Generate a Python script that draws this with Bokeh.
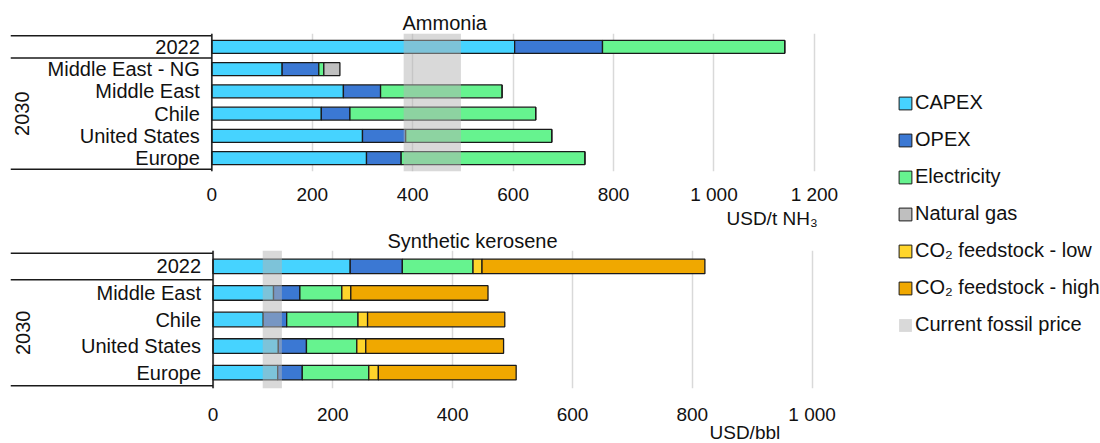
import math
from bokeh.plotting import figure
from bokeh.layouts import row, column
from bokeh.models import (ColumnDataSource, FactorRange, Range1d, FixedTicker,
                          BoxAnnotation, Span, Title, Legend, LegendItem,
                          CustomJSTickFormatter)
from bokeh.core.properties import value
from bokeh.embed import file_html
from bokeh.resources import INLINE

# ---------------- data ----------------
series_keys = ["capex", "opex", "elec", "gas", "co2_low", "co2_high"]
series_labels = ["CAPEX", "OPEX", "Electricity", "Natural gas",
                 "CO₂ feedstock - low", "CO₂ feedstock - high"]
series_colors = ["#46D3FF", "#3B78D3", "#66F38F", "#BFBFBF", "#FFD52B", "#F0A800"]
fossil_label = "Current fossil price"

amm_title = "Ammonia"
amm_unit = "USD/t NH₃"
amm_groups = ["2022", "2030", "2030", "2030", "2030", "2030"]
amm_rows = ["2022", "Middle East - NG", "Middle East", "Chile", "United States", "Europe"]
amm_capex = [603, 140, 262, 218, 300, 308]
amm_opex = [175, 73, 74, 57, 86, 69]
amm_elec = [363, 10, 242, 370, 291, 366]
amm_gas = [0, 32, 0, 0, 0, 0]
amm_fossil = [382, 496]
amm_ticks = [0, 200, 400, 600, 800, 1000, 1200]

ker_title = "Synthetic kerosene"
ker_unit = "USD/bbl"
ker_groups = ["2022", "2030", "2030", "2030", "2030"]
ker_rows = ["2022", "Middle East", "Chile", "United States", "Europe"]
ker_capex = [229, 101, 84, 109, 108]
ker_opex = [87, 44, 39, 47, 41]
ker_elec = [118, 70, 119, 84, 111]
ker_co2_low = [15, 15, 16, 15, 16]
ker_co2_high = [372, 229, 229, 230, 230]
ker_fossil = [83, 115]
ker_ticks = [0, 200, 400, 600, 800, 1000]

# ---------------- style ----------------
FONT = "Liberation Sans"
TXT = "#111111"
LINE = "#1a1a1a"
GRID = "#D9D9D9"


def make_chart(title, unit, groups, rows, stacks, fossil, ticks, x_start, x_end,
               height, border_top, border_bottom, bar_height, tick_standoff,
               title_offset, title_standoff, title_valign,
               unit_offset, unit_standoff):
    factors = list(zip(groups, rows))
    y_range = FactorRange(factors=list(reversed(factors)), factor_padding=0,
                          group_padding=0, range_padding=0.1,
                          range_padding_units="absolute")
    p = figure(width=845, height=height, x_range=Range1d(x_start, x_end),
               y_range=y_range, output_backend="svg", toolbar_location=None,
               y_axis_location=None, min_border_left=10, min_border_right=10,
               min_border_top=border_top, min_border_bottom=border_bottom)
    p.outline_line_color = None
    p.ygrid.grid_line_color = None

    # stacked bars
    data = {"y": factors}
    data.update(stacks)
    src = ColumnDataSource(data)
    keys = [k for k in series_keys if k in stacks]
    cols = [series_colors[series_keys.index(k)] for k in keys]
    p.hbar_stack(keys, y="y", height=bar_height, fill_color=cols,
                 line_color=LINE, line_width=1.3, source=src)

    # current fossil price band
    p.add_layout(BoxAnnotation(left=fossil[0], right=fossil[1],
                               fill_color="#B3B3B3", fill_alpha=0.5,
                               line_alpha=0))

    # category table at the left
    lab = ColumnDataSource(dict(x=[0] * len(rows), y=factors, text=rows))
    p.text(x="x", y="y", text="text", source=lab, x_offset=-12,
           text_align="right", text_baseline="middle",
           text_font=value(FONT), text_font_size="20px", text_color=TXT)
    grp = [g for g in dict.fromkeys(groups) if groups.count(g) > 1]
    gsrc = ColumnDataSource(dict(x=[0] * len(grp), y=grp, text=grp))
    p.text(x="x", y="y", text="text", source=gsrc, angle=math.pi / 2,
           x_offset=-190, text_align="center", text_baseline="middle",
           text_font=value(FONT), text_font_size="20px", text_color=TXT)
    n = len(rows)
    bounds = [0, n] + [n - i for i in range(1, n) if groups[i] != groups[i - 1]]
    p.segment(x0=x_start, y0=bounds, x1=0, y1=bounds, line_color=LINE,
              line_width=1.5)
    p.add_layout(Span(location=0, dimension="height", line_color=LINE,
                      line_width=1.5))

    # x axis
    ax = p.xaxis[0]
    ax.ticker = FixedTicker(ticks=ticks)
    ax.bounds = (0, x_end)
    ax.formatter = CustomJSTickFormatter(
        code="return tick.toString().replace(/\\B(?=(\\d{3})+(?!\\d))/g, ' ')")
    ax.axis_line_color = None
    ax.major_tick_line_color = None
    ax.minor_tick_line_color = None
    ax.major_tick_out = 0
    ax.major_tick_in = 0
    ax.minor_tick_out = 0
    ax.minor_tick_in = 0
    ax.major_label_standoff = tick_standoff
    ax.major_label_text_font = FONT
    ax.major_label_text_font_size = "19px"
    ax.major_label_text_color = TXT
    p.xgrid.ticker = ax.ticker
    p.xgrid.bounds = (0, x_end)
    p.xgrid.grid_line_color = GRID
    p.xgrid.grid_line_width = 1.5

    # titles
    p.title.text = title
    p.title.align = "left"
    p.title.offset = title_offset
    p.title.standoff = title_standoff
    p.title.vertical_align = title_valign
    p.title.text_font = FONT
    p.title.text_font_size = "20px"
    p.title.text_font_style = "normal"
    p.title.text_color = TXT
    p.add_layout(Title(text=unit, align="left", offset=unit_offset,
                       standoff=unit_standoff, vertical_align="top",
                       text_font=FONT, text_font_size="19px",
                       text_font_style="normal", text_color=TXT), "below")
    return p


p1 = make_chart(amm_title, amm_unit, amm_groups, amm_rows,
                {"capex": amm_capex, "opex": amm_opex, "elec": amm_elec,
                 "gas": amm_gas},
                amm_fossil, amm_ticks, -401, 1242,
                height=231, border_top=33, border_bottom=60, bar_height=0.58,
                tick_standoff=12, title_offset=392, title_standoff=0,
                title_valign="bottom", unit_offset=716, unit_standoff=0)

p2 = make_chart(ker_title, ker_unit, ker_groups, ker_rows,
                {"capex": ker_capex, "opex": ker_opex, "elec": ker_elec,
                 "co2_low": ker_co2_low, "co2_high": ker_co2_high},
                ker_fossil, ker_ticks, -338, 1039,
                height=211, border_top=19, border_bottom=54, bar_height=0.55,
                tick_standoff=15, title_offset=377, title_standoff=-6,
                title_valign="top", unit_offset=699, unit_standoff=-12)

# ---------------- legend ----------------
lp = figure(width=254, height=442, x_axis_location=None, y_axis_location=None,
            toolbar_location=None, output_backend="svg", min_border=0,
            x_range=Range1d(0, 1), y_range=Range1d(0, 1))
lp.outline_line_color = None
lp.xgrid.grid_line_color = None
lp.ygrid.grid_line_color = None
nan = float("nan")
items = []
for lab_, col in zip(series_labels, series_colors):
    r = lp.quad(left=[nan], right=[nan], top=[nan], bottom=[nan],
                fill_color=col, line_color=LINE, line_width=1)
    items.append(LegendItem(label=lab_, renderers=[r]))
r = lp.quad(left=[nan], right=[nan], top=[nan], bottom=[nan],
            fill_color="#D9D9D9", line_color=None)
items.append(LegendItem(label=fossil_label, renderers=[r]))
legend = Legend(items=items, location=(52, 106), glyph_width=16, glyph_height=16,
                label_standoff=2, spacing=14, label_height=23, padding=0,
                margin=0, border_line_color=None, background_fill_alpha=0,
                label_text_font=FONT, label_text_font_size="20px",
                label_text_color=TXT)
lp.add_layout(legend)

layout = row(column(p1, p2), lp)
open("out.html", "w").write(file_html(layout, INLINE))
